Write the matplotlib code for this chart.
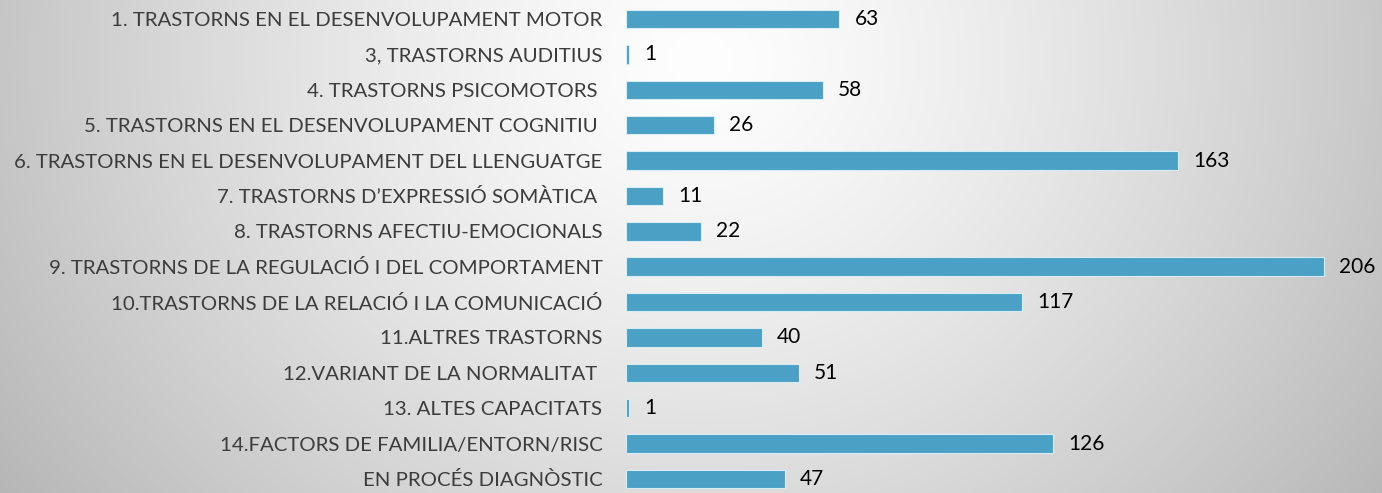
import numpy as np
import matplotlib
matplotlib.use('Agg')
import matplotlib.pyplot as plt
from matplotlib import font_manager

# Categories and counts
categories = [
    '1. TRASTORNS EN EL DESENVOLUPAMENT MOTOR',
    '3, TRASTORNS AUDITIUS',
    '4. TRASTORNS PSICOMOTORS ',
    '5. TRASTORNS EN EL DESENVOLUPAMENT COGNITIU ',
    '6. TRASTORNS EN EL DESENVOLUPAMENT DEL LLENGUATGE',
    '7. TRASTORNS D\u2019EXPRESSIÓ SOMÀTICA ',
    '8. TRASTORNS AFECTIU-EMOCIONALS',
    '9. TRASTORNS DE LA REGULACIÓ I DEL COMPORTAMENT',
    '10.TRASTORNS DE LA RELACIÓ I LA COMUNICACIÓ',
    '11.ALTRES TRASTORNS',
    '12.VARIANT DE LA NORMALITAT ',
    '13. ALTES CAPACITATS',
    '14.FACTORS DE FAMILIA/ENTORN/RISC',
    'EN PROCÉS DIAGNÒSTIC',
]
values = [63, 1, 58, 26, 163, 11, 22, 206, 117, 40, 51, 1, 126, 47]

available = {f.name for f in font_manager.fontManager.ttflist}
family = 'Liberation Sans Narrow' if 'Liberation Sans Narrow' in available else 'Lato'
plt.rcParams['font.family'] = [family, 'DejaVu Sans']

W, H = 1382, 493
fig = plt.figure(figsize=(W / 100, H / 100), dpi=100)

# Radial grey background
bg = fig.add_axes([0, 0, 1, 1])
yy, xx = np.mgrid[0:H, 0:W]
d = np.sqrt(((xx - 700) / 1.0) ** 2 + ((yy - 60) / 0.9) ** 2)
shade = 254 - 58 * np.clip(d / 720, 0, 1.3) ** 1.3
img = np.dstack([shade, shade, shade]) / 255
bg.imshow(np.clip(img, 0, 1), aspect='auto', extent=[0, W, H, 0])
bg.axis('off')

left = 626 / W
ax = fig.add_axes([left, 0, 1 - left, 1])
ax.patch.set_alpha(0)
y = np.arange(len(categories))
ax.barh(y, values, height=0.52, color='#4ba0c5', edgecolor='#d8ecf3', linewidth=0.8)

ppu = (1324 - 626) / 206
ax.set_xlim(0, (W - 626) / ppu)
pitch = (479 - 19) / 13
ax.set_ylim(13 + (H - 479) / pitch, -19 / pitch)

for i, v in enumerate(values):
    ax.text(v + 15 / ppu, i, str(v), va='center', ha='left', fontsize=15, color='black')

ax.set_yticks(y)
ax.set_yticklabels(categories, fontsize=14.7, color='#3c3c3c')
ax.tick_params(axis='y', length=0, pad=17)
ax.set_xticks([])
for s in ax.spines.values():
    s.set_visible(False)

plt.savefig('out.png', dpi=100)
